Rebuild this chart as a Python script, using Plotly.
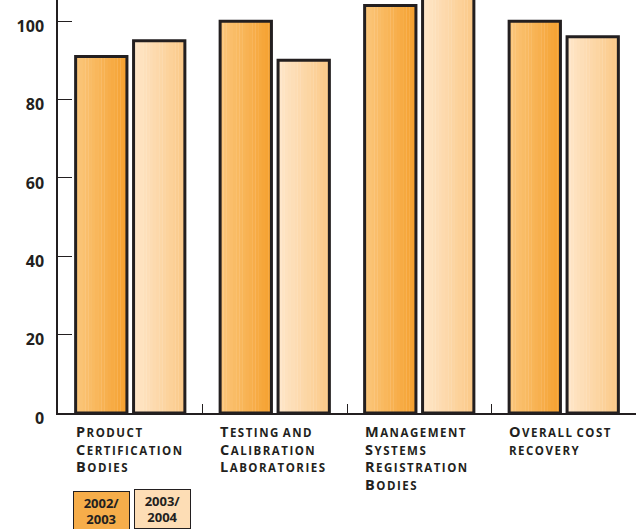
import plotly.graph_objects as go

categories = ["Product Certification Bodies", "Testing and Calibration Laboratories",
              "Management Systems Registration Bodies", "Overall cost recovery"]
label_lines = [["Product", "Certification", "Bodies"],
               ["Testing and", "Calibration", "Laboratories"],
               ["Management", "Systems", "Registration", "Bodies"],
               ["Overall cost", "recovery"]]
series_names = ["2002/2003", "2003/2004"]
values_0203 = [91, 100, 104, 100]
values_0304 = [95, 90, 108, 96]
y_ticks = [0, 20, 40, 60, 80, 100]

# gradient colours (left -> right) for each series
grad = {
    "2002/2003": ((251, 199, 124), (245, 160, 46)),
    "2003/2004": ((254, 231, 202), (251, 200, 134)),
}

def lerp(c1, c2, t):
    return "rgb(%d,%d,%d)" % tuple(round(a + (b - a) * t) for a, b in zip(c1, c2))

LS = 1.5
def small_caps(line, big=14.5, small=11.5):
    out = []
    for word in line.split(" "):
        if word[0].isupper():
            out.append("<span style='font-size:%spx;letter-spacing:%spx'>%s</span>"
                       "<span style='font-size:%spx;letter-spacing:%spx'>%s</span>"
                       % (big, LS, word[0], small, LS, word[1:].upper()))
        else:
            out.append("<span style='font-size:%spx;letter-spacing:%spx'>%s</span>"
                       % (small, LS, word.upper()))
    return ("<span style='font-size:%spx'> </span>" % small).join(out)

fig = go.Figure()
bar_w = 0.355
offsets = {"2002/2003": -0.378, "2003/2004": 0.023}
N = 16
xidx = list(range(len(categories)))
for name, vals in zip(series_names, [values_0203, values_0304]):
    c1, c2 = grad[name]
    off = offsets[name]
    for i in range(N):
        fig.add_trace(go.Bar(
            x=xidx, y=vals, width=bar_w / N + 0.002, offset=off + i * bar_w / N,
            marker=dict(color=lerp(c1, c2, (i + 0.5) / N), line=dict(width=0)),
            showlegend=False, hoverinfo="skip"))
    fig.add_trace(go.Bar(
        x=xidx, y=vals, width=bar_w, offset=off, name=name,
        marker=dict(color="rgba(0,0,0,0)", line=dict(color="#231F20", width=3)),
        showlegend=False))

font_family = "Open Sans"
txt_col = "#231F20"
PLOT_H = 413

annotations = []
for i, lines in enumerate(label_lines):
    annotations.append(dict(
        x=i - 0.39, y=0, xref="x", yref="y", xanchor="left", yanchor="top",
        yshift=-7, text="<b>" + "<br>".join(small_caps(l) for l in lines) + "</b>",
        showarrow=False, align="left",
        font=dict(family=font_family, size=13.5, color=txt_col)))

# legend boxes
leg_cols = ["#F6AD4A", "#FDDDB5"]
leg_text = ["2002/<br>2003", "2003/<br>2004"]
leg_x = [-0.395, 0.025]
leg_top = [491, 489]
for c, t, lx, lt in zip(leg_cols, leg_text, leg_x, leg_top):
    annotations.append(dict(
        x=lx, y=(PLOT_H - lt) / PLOT_H, xref="x", yref="paper", xanchor="left", yanchor="top",
        text="<b>" + t + "</b>", showarrow=False, align="center",
        width=51, height=34, valign="middle",
        bgcolor=c, bordercolor="#231F20", borderwidth=1, borderpad=2,
        font=dict(family=font_family, size=13, color=txt_col)))

fig.update_layout(
    width=636, height=529,
    margin=dict(l=58, r=0, t=0, b=116),
    paper_bgcolor="white", plot_bgcolor="white",
    barmode="overlay",
    showlegend=False,
    xaxis=dict(
        range=[-0.5, 3.5], tickvals=[0.5, 1.5, 2.5], ticktext=["", "", ""],
        ticks="inside", ticklen=9, tickcolor="#231F20", tickwidth=1,
        showline=True, linecolor="#231F20", linewidth=1.5,
        showgrid=False, zeroline=False, fixedrange=True),
    yaxis=dict(
        range=[0, 105.4], tickvals=y_ticks, ticktext=["<b>%d</b>" % v for v in y_ticks],
        ticks="inside", ticklen=14, tickcolor="#231F20", tickwidth=1,
        showline=True, linecolor="#231F20", linewidth=1.5,
        showgrid=False, zeroline=False, ticklabelstandoff=9, ticklabelshift=5,
        tickfont=dict(family=font_family, size=16, color=txt_col)),
    annotations=annotations,
)

fig.write_html("out.html")
